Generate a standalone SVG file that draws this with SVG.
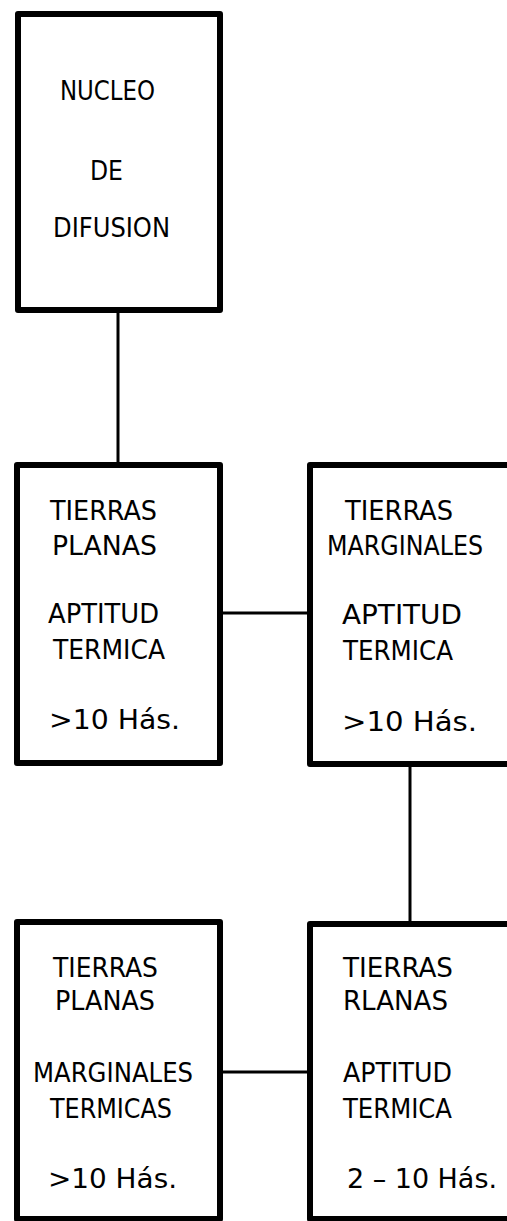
<svg xmlns="http://www.w3.org/2000/svg" width="507" height="1221" viewBox="0 0 507 1221">
<style>
.box{fill:#fff;stroke:#000;stroke-width:6;stroke-linejoin:round}
.c{stroke:#000;stroke-width:3;fill:none}
text{font-family:"DejaVu Sans Condensed","DejaVu Sans",sans-serif;font-size:27px;fill:#000}
</style>
<rect width="507" height="1221" fill="#fff"/>
<g id="connectors">
<line class="c" x1="118" y1="310" x2="118" y2="465"/>
<line class="c" x1="220" y1="613" x2="310" y2="613"/>
<line class="c" x1="410" y1="764" x2="410" y2="924"/>
<line class="c" x1="220" y1="1072" x2="310" y2="1072"/>
</g>
<g id="nucleo">
<rect class="box" x="18" y="14" width="202" height="296"/>
<text x="60" y="100" textLength="95" lengthAdjust="spacingAndGlyphs">NUCLEO</text>
<text x="90" y="180" textLength="33" lengthAdjust="spacingAndGlyphs">DE</text>
<text x="53" y="237" textLength="117" lengthAdjust="spacingAndGlyphs">DIFUSION</text>
</g>
<g id="planas-aptitud">
<rect class="box" x="17" y="465" width="203" height="298"/>
<text x="50" y="520" textLength="107" lengthAdjust="spacingAndGlyphs">TIERRAS</text>
<text x="52" y="555" textLength="105" lengthAdjust="spacingAndGlyphs">PLANAS</text>
<text x="48" y="623" textLength="111" lengthAdjust="spacingAndGlyphs">APTITUD</text>
<text x="53" y="659" textLength="112" lengthAdjust="spacingAndGlyphs">TERMICA</text>
<text x="49" y="729" textLength="131" lengthAdjust="spacingAndGlyphs">&gt;10 Hás.</text>
</g>
<g id="marginales-aptitud">
<rect class="box" x="310" y="465" width="210" height="299"/>
<text x="345" y="520" textLength="108" lengthAdjust="spacingAndGlyphs">TIERRAS</text>
<text x="327" y="555" textLength="156" lengthAdjust="spacingAndGlyphs">MARGINALES</text>
<text x="342" y="624" textLength="120" lengthAdjust="spacingAndGlyphs">APTITUD</text>
<text x="343" y="660" textLength="110" lengthAdjust="spacingAndGlyphs">TERMICA</text>
<text x="342" y="731" textLength="135" lengthAdjust="spacingAndGlyphs">&gt;10 Hás.</text>
</g>
<g id="planas-marginales">
<rect class="box" x="17" y="922" width="203" height="297"/>
<text x="53" y="977" textLength="105" lengthAdjust="spacingAndGlyphs">TIERRAS</text>
<text x="55" y="1010" textLength="100" lengthAdjust="spacingAndGlyphs">PLANAS</text>
<text x="33" y="1082" textLength="160" lengthAdjust="spacingAndGlyphs">MARGINALES</text>
<text x="50" y="1118" textLength="122" lengthAdjust="spacingAndGlyphs">TERMICAS</text>
<text x="48" y="1188" textLength="129" lengthAdjust="spacingAndGlyphs">&gt;10 Hás.</text>
</g>
<g id="planas-2-10">
<rect class="box" x="310" y="924" width="210" height="295"/>
<text x="343" y="977" textLength="110" lengthAdjust="spacingAndGlyphs">TIERRAS</text>
<text x="343" y="1010" textLength="105" lengthAdjust="spacingAndGlyphs">RLANAS</text>
<text x="343" y="1082" textLength="109" lengthAdjust="spacingAndGlyphs">APTITUD</text>
<text x="343" y="1118" textLength="109" lengthAdjust="spacingAndGlyphs">TERMICA</text>
<text x="347" y="1188" textLength="150" lengthAdjust="spacingAndGlyphs">2 – 10 Hás.</text>
</g>
</svg>
